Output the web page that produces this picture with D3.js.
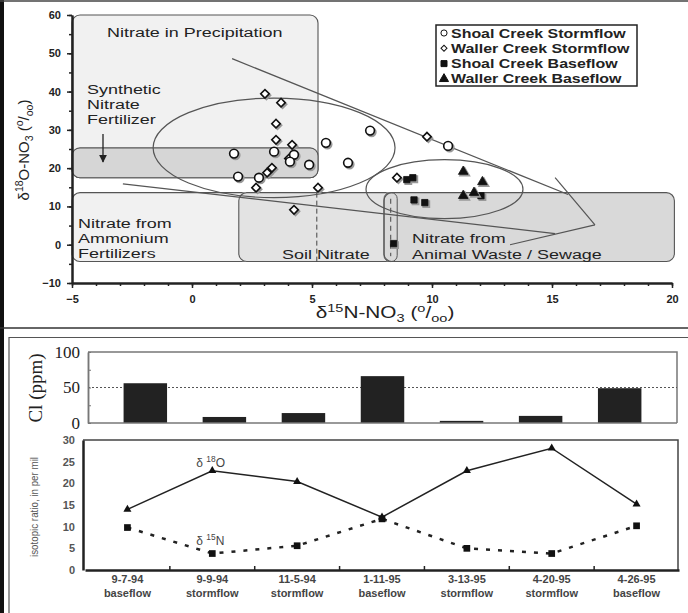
<!DOCTYPE html>
<html>
<head>
<meta charset="utf-8">
<script src="https://cdn.jsdelivr.net/npm/d3@7"></script>
<style>
body { margin: 0; background: #fff; }
text { font-family: "Liberation Sans", Arial, sans-serif; fill: #222; }
</style>
</head>
<body>
<div id="chart"></div>
<script>
// ---------- top panel data (d15N, d18O in per mil) ----------
var shoalStorm = [
    {n: 1.75, o: 23.8}, {n: 3.42, o: 24.3}, {n: 4.25, o: 23.5}, {n: 4.08, o: 21.7},
    {n: 4.88, o: 20.9}, {n: 1.92, o: 17.8}, {n: 2.79, o: 17.5}, {n: 5.58, o: 26.6},
    {n: 6.5, o: 21.4}, {n: 7.42, o: 29.8}, {n: 10.67, o: 25.8}
];
var wallerStorm = [
    {n: 3.04, o: 39.4}, {n: 3.71, o: 37.1}, {n: 3.5, o: 31.6}, {n: 3.5, o: 27.4},
    {n: 4.17, o: 26.1}, {n: 4.04, o: 22.5}, {n: 3.33, o: 20.1}, {n: 3.13, o: 18.8},
    {n: 2.67, o: 14.9}, {n: 5.25, o: 14.9}, {n: 4.25, o: 9.1}, {n: 9.79, o: 28.2},
    {n: 8.54, o: 17.5}
];
var shoalBase = [
    {n: 8.95, o: 17.0}, {n: 9.2, o: 17.5}, {n: 9.25, o: 11.7}, {n: 9.7, o: 11.0},
    {n: 8.4, o: 0.3}, {n: 12.04, o: 12.8}
];
var wallerBase = [
    {n: 11.3, o: 19.1}, {n: 12.1, o: 16.4}, {n: 11.3, o: 12.8}, {n: 11.75, o: 13.6}
];

// source regions (data units)
var sourceBoxes = [
    {name: "precip", x0: -5, x1: 5.25, y0: 17.5, y1: 60, fill: "#f1f1f1"},
    {name: "synthetic", x0: -5, x1: 5.25, y0: 17.5, y1: 25.3, fill: "#d6d6d6"},
    {name: "ammonium", x0: -5, x1: 2.4, y0: -4.4, y1: 13.6, fill: "#f1f1f1"},
    {name: "soil", x0: 1.95, x1: 8.4, y0: -4.4, y1: 13.6, fill: "#e3e3e3"},
    {name: "animal", x0: 8.0, x1: 20.1, y0: -4.4, y1: 13.6, fill: "#d9d9d9"}
];
var ellipses = [
    {cx: 3.42, cy: 25.3, rx: 5.04, ry: 13},
    {cx: 10.52, cy: 14.5, rx: 3.27, ry: 7.7}
];
var mixLines = [
    [{n: 1.67, o: 48.6}, {n: 15.67, o: 13.1}],
    [{n: -2.88, o: 15.9}, {n: 15.13, o: 2.9}],
    [{n: 15.13, o: 17.5}, {n: 16.79, o: 5.2}],
    [{n: 16.79, o: 5.2}, {n: 13.25, o: 0}]
];

// ---------- bottom panel data ----------
var sampleDates = ["9-7-94", "9-9-94", "11-5-94", "1-11-95", "3-13-95", "4-20-95", "4-26-95"];
var sampleFlows = ["baseflow", "stormflow", "stormflow", "baseflow", "stormflow", "stormflow", "baseflow"];
var chloride = [56, 8.5, 14, 66, 3, 10, 49];
var d18O = [14.0, 22.9, 20.4, 12.2, 22.9, 28.1, 15.2];
var d15N = [9.8, 3.8, 5.6, 11.8, 5.0, 3.8, 10.2];

var W = 688, H = 613;

var svg = d3.select("#chart").append("svg")
    .attr("width", W)
    .attr("height", H);

svg.append("rect").attr("width", W).attr("height", H).attr("fill", "#fff");

// frame lines
svg.append("rect").attr("x", 0).attr("y", 0).attr("width", 4).attr("height", H).attr("fill", "#111");
svg.append("line").attr("x1", 0).attr("x2", W).attr("y1", 1).attr("y2", 1).attr("stroke", "#444").attr("stroke-width", 1.5);
svg.append("line").attr("x1", 0).attr("x2", W).attr("y1", 328).attr("y2", 328).attr("stroke", "#333").attr("stroke-width", 1.5);
svg.append("path").attr("d", "M9," + H + "V337.5H" + W).attr("fill", "none").attr("stroke", "#555").attr("stroke-width", 1.2);

// helper for super/subscript text
function richText(t, parts, fs) {
    var cur = 0;
    parts.forEach(function(p) {
        var target = p[1] === 1 ? -fs * 0.4 : (p[1] === -1 ? fs * 0.25 : 0);
        t.append("tspan")
            .attr("dy", target - cur)
            .style("font-size", (p[1] ? fs * 0.7 : fs) + "px")
            .text(p[0]);
        cur = target;
    });
}

// ================= top scatter =================
var x = d3.scaleLinear().domain([-5, 20]).range([72, 672]);
var y = d3.scaleLinear().domain([-10, 60]).range([283, 15]);

var scat = svg.append("g");

// source boxes
scat.selectAll(".box")
    .data(sourceBoxes)
    .enter().append("rect")
    .attr("class", "box")
    .attr("x", function(d) { return x(d.x0); })
    .attr("y", function(d) { return y(d.y1); })
    .attr("width", function(d) { return x(d.x1) - x(d.x0); })
    .attr("height", function(d) { return y(d.y0) - y(d.y1); })
    .attr("rx", 8)
    .attr("fill", function(d) { return d.fill; })
    .attr("stroke", "#555")
    .attr("stroke-width", 1.1);

// dashed divider in soil box and the small pill
scat.append("line")
    .attr("x1", x(5.2)).attr("x2", x(5.2))
    .attr("y1", y(13.6)).attr("y2", y(-4.4))
    .attr("stroke", "#444").attr("stroke-dasharray", "5,3");
scat.append("rect")
    .attr("x", x(8.0)).attr("y", y(13.6))
    .attr("width", x(8.55) - x(8.0)).attr("height", y(-4.4) - y(13.6))
    .attr("rx", 6)
    .attr("fill", "none").attr("stroke", "#555");
scat.append("line")
    .attr("x1", x(8.28)).attr("x2", x(8.28))
    .attr("y1", y(12)).attr("y2", y(-3))
    .attr("stroke", "#444").attr("stroke-dasharray", "5,4");

// ellipses
scat.selectAll(".ell")
    .data(ellipses)
    .enter().append("ellipse")
    .attr("cx", function(d) { return x(d.cx); })
    .attr("cy", function(d) { return y(d.cy); })
    .attr("rx", function(d) { return x(d.cx + d.rx) - x(d.cx); })
    .attr("ry", function(d) { return y(d.cy - d.ry) - y(d.cy); })
    .attr("fill", "none")
    .attr("stroke", "#555")
    .attr("stroke-width", 1.2);

// mixing lines
var line = d3.line().x(function(d) { return x(d.n); }).y(function(d) { return y(d.o); });
scat.selectAll(".mix")
    .data(mixLines)
    .enter().append("path")
    .attr("d", line)
    .attr("fill", "none")
    .attr("stroke", "#555")
    .attr("stroke-width", 1.2);

// arrow for synthetic fertilizer
svg.append("defs").append("marker")
    .attr("id", "arr").attr("viewBox", "0 0 10 10")
    .attr("refX", 9).attr("refY", 5)
    .attr("markerWidth", 6).attr("markerHeight", 6)
    .attr("orient", "auto")
    .append("path").attr("d", "M0,0L10,5L0,10z").attr("fill", "#222");
scat.append("line")
    .attr("x1", 103).attr("x2", 103).attr("y1", 134).attr("y2", 162)
    .attr("stroke", "#222").attr("stroke-width", 1.3)
    .attr("marker-end", "url(#arr)");

// region labels (the original art is stretched sideways, hence the scale)
function label(txt, px, py) {
    scat.append("text")
        .attr("transform", "translate(" + px + "," + py + ") scale(1.33,1)")
        .style("font-size", "13.5px")
        .attr("fill", "#222")
        .text(txt);
}
label("Nitrate in Precipitation", 107, 37);
label("Synthetic", 87, 94);
label("Nitrate", 87, 109);
label("Fertilizer", 87, 124);
label("Nitrate from", 78, 228);
label("Ammonium", 78, 243);
label("Fertilizers", 78, 258);
label("Soil Nitrate", 282, 259);
label("Nitrate from", 412, 243);
label("Animal Waste / Sewage", 412, 259);

// axes
var xAxisG = scat.append("g").attr("transform", "translate(0," + y(-10) + ")");
xAxisG.append("g")
    .call(d3.axisBottom(x).tickValues(d3.range(-5, 21)).tickSize(3).tickSizeOuter(0).tickFormat(""));
xAxisG.append("g")
    .call(d3.axisBottom(x).tickValues([-5, 0, 5, 10, 15, 20]).tickSize(5).tickSizeOuter(0).tickPadding(7));
var yAxisG = scat.append("g").attr("transform", "translate(" + x(-5) + ",0)");
yAxisG.append("g")
    .call(d3.axisLeft(y).tickValues(d3.range(-10, 61, 5)).tickSize(3).tickSizeOuter(0).tickFormat(""));
yAxisG.append("g")
    .call(d3.axisLeft(y).tickValues(d3.range(-10, 61, 10)).tickSize(5).tickSizeOuter(0).tickPadding(6));
scat.selectAll(".domain").attr("stroke", "#222").attr("stroke-width", 2);
scat.selectAll(".tick line").attr("stroke", "#222").attr("stroke-width", 1.5);
scat.selectAll(".tick text")
    .style("font-size", "11px").style("font-weight", "bold")
    .style("font-family", "'Liberation Sans', Arial, sans-serif").attr("fill", "#222");

// axis titles
var xt = scat.append("text")
    .attr("transform", "translate(385,318) scale(1.3,1)")
    .attr("text-anchor", "middle");
richText(xt, [["δ", 0], ["15", 1], ["N-NO", 0], ["3", -1], [" (", 0], ["o", 1], ["/", 0], ["oo", -1], [")", 0]], 16);
var yt = scat.append("text").attr("transform", "translate(29,150) rotate(-90)").attr("text-anchor", "middle");
richText(yt, [["δ", 0], ["18", 1], ["O-NO", 0], ["3", -1], [" (", 0], ["o", 1], ["/", 0], ["oo", -1], [")", 0]], 15);

// symbols
var circleSym = d3.symbol().type(d3.symbolCircle).size(60);
var diamondSym = d3.symbol().type(d3.symbolSquare).size(36);
var squareSym = d3.symbol().type(d3.symbolSquare).size(40);
var triSym = d3.symbol().type(d3.symbolTriangle).size(40);

function drawPoints(data, sym, rot, fill) {
    // drop shadow
    scat.selectAll(null).data(data).enter().append("path")
        .attr("d", sym)
        .attr("transform", function(d) { return "translate(" + (x(d.n) + 1.5) + "," + (y(d.o) + 1.5) + ") rotate(" + rot + ")"; })
        .attr("fill", "#999").attr("stroke", "#999").attr("stroke-width", 1.5);
    scat.selectAll(null).data(data).enter().append("path")
        .attr("d", sym)
        .attr("transform", function(d) { return "translate(" + x(d.n) + "," + y(d.o) + ") rotate(" + rot + ")"; })
        .attr("fill", fill).attr("stroke", "#111").attr("stroke-width", fill === "#fff" ? 1.6 : 0.8);
}
drawPoints(wallerStorm, diamondSym, 45, "#fff");
drawPoints(shoalStorm, circleSym, 0, "#fff");
drawPoints(shoalBase, squareSym, 0, "#111");
drawPoints(wallerBase, triSym, 0, "#111");

// legend
var legendItems = [
    {label: "Shoal Creek Stormflow", sym: d3.symbol().type(d3.symbolCircle).size(30), rot: 0, fill: "#fff"},
    {label: "Waller Creek Stormflow", sym: d3.symbol().type(d3.symbolSquare).size(18), rot: 45, fill: "#fff"},
    {label: "Shoal Creek Baseflow", sym: d3.symbol().type(d3.symbolSquare).size(36), rot: 0, fill: "#111"},
    {label: "Waller Creek Baseflow", sym: d3.symbol().type(d3.symbolTriangle).size(36), rot: 0, fill: "#111"}
];
var lg = scat.append("g").attr("transform", "translate(436,25)");
lg.append("rect").attr("width", 201).attr("height", 61)
    .attr("fill", "#fff").attr("stroke", "#222").attr("stroke-width", 1.5);
var li = lg.selectAll(".li").data(legendItems).enter().append("g")
    .attr("transform", function(d, i) { return "translate(0," + (8 + i * 15.3) + ")"; });
li.append("path")
    .attr("d", function(d) { return d.sym(); })
    .attr("transform", function(d) { return "translate(8,0) rotate(" + d.rot + ")"; })
    .attr("fill", function(d) { return d.fill; })
    .attr("stroke", "#111").attr("stroke-width", 1);
li.append("text")
    .attr("transform", "translate(15,4.5) scale(1.33,1)")
    .style("font-size", "12px").style("font-weight", "bold")
    .text(function(d) { return d.label; });

// ================= bottom: chloride bars =================
var xb = d3.scaleBand().domain(sampleDates).range([88, 677]).padding(0.45);
var yCl = d3.scaleLinear().domain([0, 100]).range([423, 352]);

var bar = svg.append("g");
bar.append("path")
    .attr("d", "M" + xb.range()[0] + "," + yCl(100) + "H" + xb.range()[1] + "V" + yCl(0))
    .attr("fill", "none").attr("stroke", "#777").attr("stroke-width", 1.5);
bar.append("line")
    .attr("x1", 88).attr("x2", 677).attr("y1", yCl(50)).attr("y2", yCl(50))
    .attr("stroke", "#555").attr("stroke-dasharray", "2,2");
bar.selectAll(".bar")
    .data(chloride)
    .enter().append("rect")
    .attr("x", function(d, i) { return xb(sampleDates[i]); })
    .attr("width", xb.bandwidth())
    .attr("y", function(d) { return yCl(d); })
    .attr("height", function(d) { return yCl(0) - yCl(d); })
    .attr("fill", "#222");
bar.append("line").attr("x1", 88).attr("x2", 677).attr("y1", yCl(0)).attr("y2", yCl(0))
    .attr("stroke", "#777").attr("stroke-width", 1.5);
var clAxis = bar.append("g").attr("transform", "translate(88,0)")
    .call(d3.axisLeft(yCl).tickValues([0, 50, 100]).tickSize(0).tickPadding(8));
bar.append("g").attr("transform", "translate(88,0)")
    .call(d3.axisRight(yCl).tickValues([0, 25, 50, 75, 100]).tickSize(3).tickSizeOuter(0).tickFormat(""));
bar.selectAll(".domain").attr("stroke", "#777").attr("stroke-width", 1.5);
bar.selectAll(".tick line").attr("stroke", "#777");
clAxis.selectAll("text")
    .style("font-size", "17px")
    .style("font-family", "'Liberation Serif', 'Times New Roman', serif")
    .attr("fill", "#222");
bar.append("text")
    .attr("transform", "translate(42,388) rotate(-90)")
    .attr("text-anchor", "middle")
    .style("font-family", "'Liberation Serif', 'Times New Roman', serif")
    .style("font-size", "19px")
    .text("Cl (ppm)");

// ================= bottom: isotope lines =================
var xl = d3.scaleBand().domain(sampleDates).range([85, 679]);
var yIso = d3.scaleLinear().domain([0, 30]).range([570, 440]);
var cx = function(i) { return xl(sampleDates[i]) + xl.bandwidth() / 2; };

var iso = svg.append("g");
iso.append("path")
    .attr("d", "M83," + yIso(30) + "H678V" + yIso(0))
    .attr("fill", "none").attr("stroke", "#444").attr("stroke-width", 1.5);

var isoLine = d3.line().x(function(d, i) { return cx(i); }).y(function(d) { return yIso(d); });
iso.append("path").datum(d15N).attr("d", isoLine)
    .attr("fill", "none").attr("stroke", "#222").attr("stroke-width", 2.5)
    .attr("stroke-dasharray", "4,8");
iso.append("path").datum(d18O).attr("d", isoLine)
    .attr("fill", "none").attr("stroke", "#222").attr("stroke-width", 1.5);

iso.selectAll(".sq").data(d15N).enter().append("path")
    .attr("d", d3.symbol().type(d3.symbolSquare).size(45))
    .attr("transform", function(d, i) { return "translate(" + cx(i) + "," + yIso(d) + ")"; })
    .attr("fill", "#111");
iso.selectAll(".tri").data(d18O).enter().append("path")
    .attr("d", d3.symbol().type(d3.symbolTriangle).size(28))
    .attr("transform", function(d, i) { return "translate(" + cx(i) + "," + yIso(d) + ")"; })
    .attr("fill", "#111");

// axes
iso.append("g").attr("transform", "translate(83,0)")
    .call(d3.axisLeft(yIso).tickValues(d3.range(0, 31, 5)).tickSize(0).tickPadding(8));
var bx = iso.append("g").attr("transform", "translate(0," + yIso(0) + ")")
    .call(d3.axisTop(xl).tickValues(sampleDates.slice(1)).tickSize(4).tickSizeOuter(0).tickFormat(""));
bx.selectAll(".tick").attr("transform", function(d) { return "translate(" + xl(d) + ",0)"; });
iso.selectAll(".domain").attr("stroke", "#222").attr("stroke-width", 2.5);
iso.selectAll(".tick line").attr("stroke", "#222").attr("stroke-width", 1.5);
iso.selectAll(".tick text")
    .style("font-size", "11px").style("font-weight", "bold")
    .style("font-family", "'Liberation Sans', Arial, sans-serif").style("fill", "#555");

// category labels
var cat = iso.selectAll(".cat").data(sampleDates).enter().append("text")
    .attr("text-anchor", "middle")
    .style("font-size", "11px").style("font-weight", "bold").style("fill", "#444");
cat.append("tspan").attr("x", function(d, i) { return cx(i); }).attr("y", 583).text(function(d) { return d; });
cat.append("tspan").attr("x", function(d, i) { return cx(i); }).attr("y", 597).text(function(d, i) { return sampleFlows[i]; });

// series labels
var lo = iso.append("text").attr("x", cx(1) - 16).attr("y", 467).style("fill", "#444");
richText(lo, [["δ ", 0], ["18", 1], ["O", 0]], 12);
var ln = iso.append("text").attr("x", cx(1) - 16).attr("y", 545).style("fill", "#444");
richText(ln, [["δ ", 0], ["15", 1], ["N", 0]], 12);

iso.append("text")
    .attr("transform", "translate(38,507) rotate(-90)")
    .attr("text-anchor", "middle")
    .attr("textLength", 100).attr("lengthAdjust", "spacingAndGlyphs")
    .style("font-size", "10px").style("fill", "#555")
    .text("isotopic ratio, in per mil");
</script>
</body>
</html>
